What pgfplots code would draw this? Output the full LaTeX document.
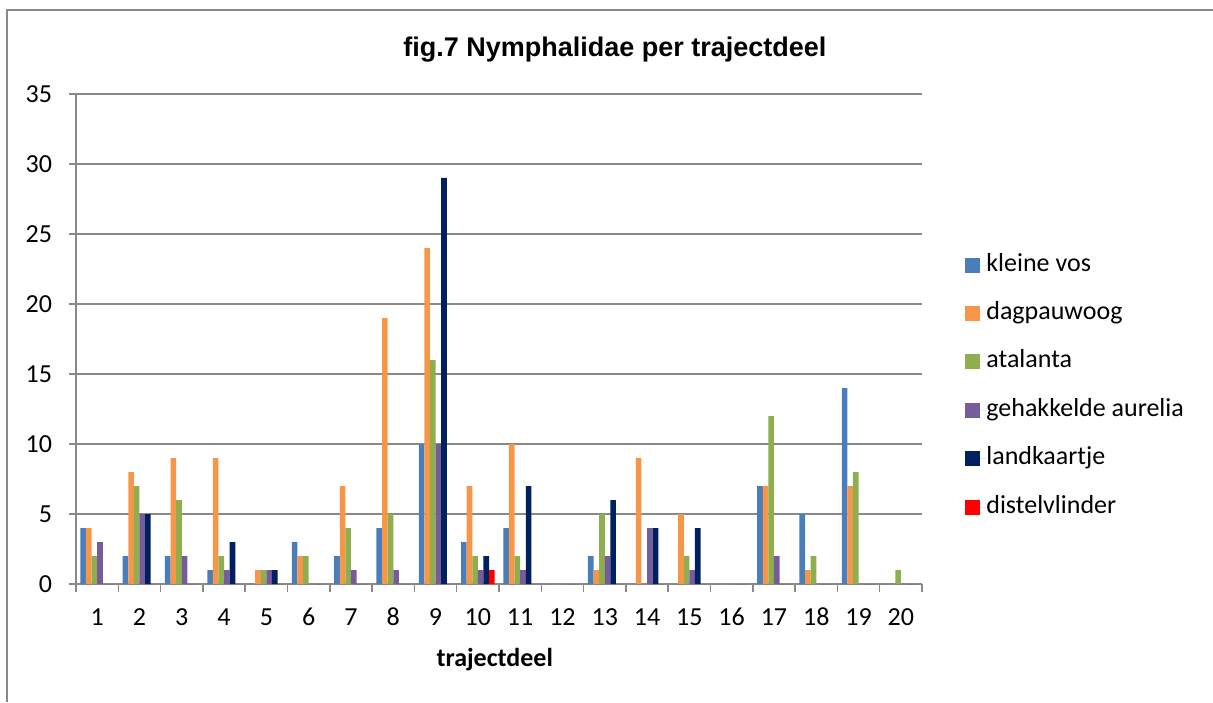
\documentclass[border=0pt]{standalone}
\usepackage{pgfplots}
\usepackage{pgfplotstable}
\pgfplotsset{compat=1.18}
\usepackage{fontspec}
\setmainfont{Carlito}
\newfontfamily\arialfont{Liberation Sans}
\definecolor{ckv}{HTML}{4A7EBB}
\definecolor{cdp}{HTML}{F79646}
\definecolor{cat}{HTML}{8FAE4F}
\definecolor{cga}{HTML}{775C9C}
\definecolor{clk}{HTML}{002060}
\definecolor{cdv}{HTML}{FF0000}
\definecolor{gridgray}{HTML}{898989}
\pgfplotstableread{
cat kv dp at ga lk dv
1 4 4 2 3 0 0
2 2 8 7 5 5 0
3 2 9 6 2 0 0
4 1 9 2 1 3 0
5 0 1 1 1 1 0
6 3 2 2 0 0 0
7 2 7 4 1 0 0
8 4 19 5 1 0 0
9 10 24 16 10 29 0
10 3 7 2 1 2 1
11 4 10 2 1 7 0
12 0 0 0 0 0 0
13 2 1 5 2 6 0
14 0 9 0 4 4 0
15 0 5 2 1 4 0
16 0 0 0 0 0 0
17 7 7 12 2 0 0
18 5 1 2 0 0 0
19 14 7 8 0 0 0
20 0 0 1 0 0 0
}\data
\begin{document}
\begin{tikzpicture}
\useasboundingbox (0,0) rectangle (606.5pt,351pt);
\draw[gridgray, line width=0.75pt] (3.5pt,0pt) -- (3.5pt,346pt) -- (606.5pt,346pt);
\begin{axis}[
  at={(38pt,59pt)}, anchor=south west,
  scale only axis, width=423pt, height=245pt,
  ybar=0pt, bar width=2.8pt,
  xmin=0.5, xmax=20.5, ymin=0, ymax=35,
  ytick={0,5,...,35},
  xtick={0.5,1.5,2.5,3.5,4.5,5.5,6.5,7.5,8.5,9.5,10.5,11.5,12.5,13.5,14.5,15.5,16.5,17.5,18.5,19.5,20.5},
  x tick label as interval,
  xticklabels={1,2,3,4,5,6,7,8,9,10,11,12,13,14,15,16,17,18,19,20},
  axis x line*=bottom, axis y line*=left,
  axis line style={gridgray, line width=0.75pt, -},
  ymajorgrids, grid style={gridgray, line width=0.75pt},
  tick align=outside, major tick length=3.75pt,
  tick style={gridgray, line width=0.75pt},
  /pgf/number format/assume math mode=true,
  ticklabel style={font=\fontsize{13}{15.6}\selectfont, inner sep=0pt},
  yticklabel style={anchor=east, xshift=-8pt},
  xticklabel style={anchor=base, yshift=-17pt},
  title={fig.7 Nymphalidae per trajectdeel},
  title style={at={(axis description cs:0.637,1.067)}, anchor=center, font=\arialfont\bfseries\fontsize{13.5}{16}\selectfont, inner sep=0pt},
  xlabel={\bfseries trajectdeel},
  xlabel style={at={(axis description cs:0.495,-0.155)}, anchor=center, font=\fontsize{13}{15.6}\selectfont, inner sep=0pt},
  legend style={draw=none, fill=none, at={(1.0508,0.404)}, anchor=west, inner sep=0pt,
    font=\fontsize{13}{15.6}\selectfont, row sep=12.2pt,
    nodes={inner sep=0pt, text height=9pt, text depth=3pt}},
  legend cell align=left,
  legend image code/.code={\fill[#1] (0pt,-3.75pt) rectangle (7.5pt,3.75pt); \path (0pt,0pt) -- (10.5pt,0pt);},
]
\addplot[fill=ckv, draw=none] table[x=cat,y=kv]{\data};
\addplot[fill=cdp, draw=none] table[x=cat,y=dp]{\data};
\addplot[fill=cat, draw=none] table[x=cat,y=at]{\data};
\addplot[fill=cga, draw=none] table[x=cat,y=ga]{\data};
\addplot[fill=clk, draw=none] table[x=cat,y=lk]{\data};
\addplot[fill=cdv, draw=none] table[x=cat,y=dv]{\data};
\legend{kleine vos, dagpauwoog, atalanta, gehakkelde aurelia, landkaartje, distelvlinder}
\end{axis}
\end{tikzpicture}
\end{document}
